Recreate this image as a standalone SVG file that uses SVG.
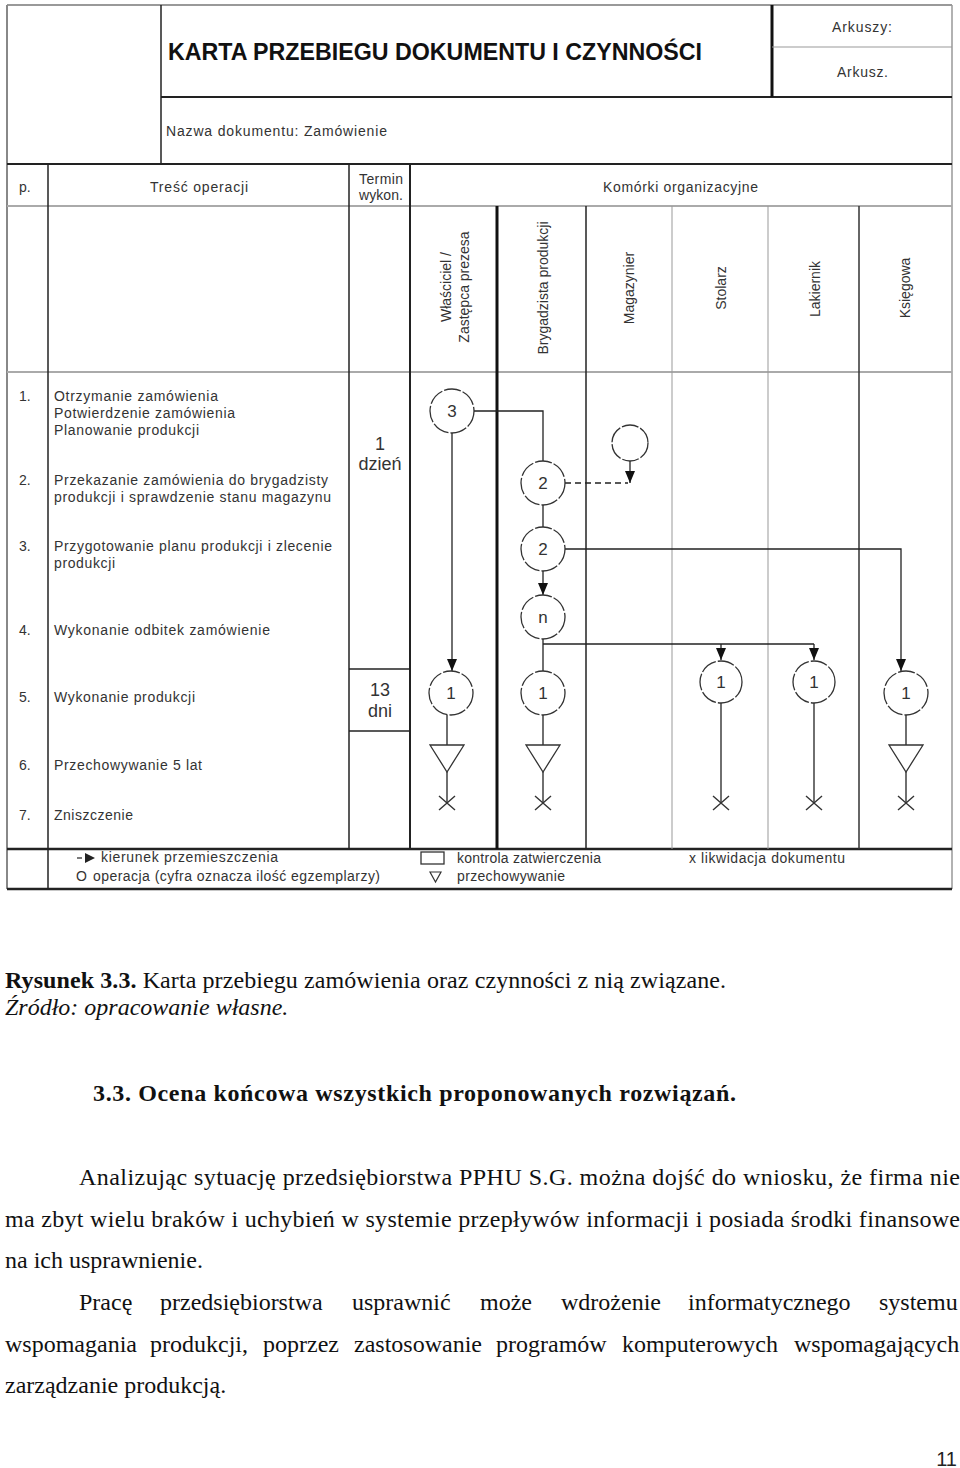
<svg xmlns="http://www.w3.org/2000/svg" width="960" height="1468" viewBox="0 0 960 1468">
<defs>
<marker id="ah" viewBox="0 0 12 10" refX="12" refY="5" markerWidth="12" markerHeight="10" markerUnits="userSpaceOnUse" orient="auto"><path d="M0,0 L12,5 L0,10 z" fill="#111"/></marker>
<style>
.t{font-family:"Liberation Sans",Arial,sans-serif;fill:#333;font-size:14px}
.big{font-size:18px;text-anchor:middle}
.s{font-family:"Liberation Serif","Times New Roman",serif;fill:#111;font-size:24px}
.node circle{fill:#fff;stroke:#333;stroke-width:1.3;stroke-dasharray:17 2}
.node text{font-family:"Liberation Sans",Arial,sans-serif;font-size:17px;fill:#333;text-anchor:middle}
.conn path{stroke:#222;fill:none;stroke-width:1.3}
.store{fill:#fff;stroke:#333;stroke-width:1.3}
.x{stroke:#333;stroke-width:1.4}
.rot{text-anchor:middle}
</style>
</defs>
<rect width="960" height="1468" fill="#fff"/>

<g id="frame" fill="none">
<line x1="7" y1="5" x2="952" y2="5" stroke="#999" stroke-width="2"/>
<line x1="7" y1="5" x2="7" y2="889" stroke="#888" stroke-width="2"/>
<line x1="952" y1="5" x2="952" y2="889" stroke="#999" stroke-width="1.5"/>
<line x1="7" y1="889" x2="952" y2="889" stroke="#222" stroke-width="2.5"/>
<line x1="161" y1="5" x2="161" y2="164" stroke="#222" stroke-width="1.5"/>
<line x1="161" y1="97" x2="952" y2="97" stroke="#222" stroke-width="2"/>
<line x1="772" y1="5" x2="772" y2="97" stroke="#111" stroke-width="3"/>
<line x1="772" y1="47" x2="952" y2="47" stroke="#999" stroke-width="1"/>
<line x1="7" y1="164" x2="952" y2="164" stroke="#222" stroke-width="2"/>
<line x1="7" y1="206" x2="952" y2="206" stroke="#aaa" stroke-width="2"/>
<line x1="7" y1="372" x2="952" y2="372" stroke="#aaa" stroke-width="2"/>
<line x1="7" y1="849" x2="952" y2="849" stroke="#222" stroke-width="2.5"/>
<line x1="48" y1="164" x2="48" y2="889" stroke="#222" stroke-width="1.5"/>
<line x1="349" y1="164" x2="349" y2="849" stroke="#222" stroke-width="1.5"/>
<line x1="410" y1="164" x2="410" y2="849" stroke="#222" stroke-width="2"/>
<line x1="497" y1="206" x2="497" y2="849" stroke="#111" stroke-width="3"/>
<line x1="586" y1="206" x2="586" y2="849" stroke="#222" stroke-width="1.5"/>
<line x1="672" y1="206" x2="672" y2="849" stroke="#999" stroke-width="1"/>
<line x1="768" y1="206" x2="768" y2="849" stroke="#999" stroke-width="1"/>
<line x1="859" y1="206" x2="859" y2="849" stroke="#333" stroke-width="1.5"/>
<line x1="349" y1="669" x2="410" y2="669" stroke="#222" stroke-width="1.5"/>
<line x1="349" y1="731" x2="410" y2="731" stroke="#222" stroke-width="1.5"/>
</g>

<g id="header">
<text x="168" y="60" font-family="Liberation Sans, Arial, sans-serif" font-weight="bold" font-size="23" fill="#111" textLength="534" lengthAdjust="spacingAndGlyphs">KARTA PRZEBIEGU DOKUMENTU I CZYNNOŚCI</text>
<text class="t" x="832" y="32" textLength="60">Arkuszy:</text>
<text class="t" x="837" y="77" textLength="51">Arkusz.</text>
<text class="t" x="166" y="136" textLength="221">Nazwa dokumentu: Zamówienie</text>
<text class="t" x="19" y="192">p.</text>
<text class="t" x="150" y="192" textLength="98">Treść operacji</text>
<text class="t" x="359" y="184" textLength="44">Termin</text>
<text class="t" x="359" y="200" textLength="44">wykon.</text>
<text class="t" x="603" y="192" textLength="155">Komórki organizacyjne</text>
<text class="t rot" transform="translate(451,287) rotate(-90)">Właściciel /</text>
<text class="t rot" transform="translate(469,287) rotate(-90)">Zastępca prezesa</text>
<text class="t rot" transform="translate(548,288) rotate(-90)">Brygadzista produkcji</text>
<text class="t rot" transform="translate(634,288) rotate(-90)">Magazynier</text>
<text class="t rot" transform="translate(726,288) rotate(-90)">Stolarz</text>
<text class="t rot" transform="translate(820,289) rotate(-90)">Lakiernik</text>
<text class="t rot" transform="translate(910,288) rotate(-90)">Księgowa</text>
</g>

<g id="operations">
<text class="t" x="19" y="401">1.</text>
<text class="t" x="54" y="401" textLength="164">Otrzymanie zamówienia</text>
<text class="t" x="54" y="418" textLength="181">Potwierdzenie zamówienia</text>
<text class="t" x="54" y="435" textLength="145">Planowanie produkcji</text>
<text class="t" x="19" y="485">2.</text>
<text class="t" x="54" y="485" textLength="274">Przekazanie zamówienia do brygadzisty</text>
<text class="t" x="54" y="502" textLength="277">produkcji i sprawdzenie stanu magazynu</text>
<text class="t" x="19" y="551">3.</text>
<text class="t" x="54" y="551" textLength="278">Przygotowanie planu produkcji i zlecenie</text>
<text class="t" x="54" y="568" textLength="61">produkcji</text>
<text class="t" x="19" y="635">4.</text>
<text class="t" x="54" y="635" textLength="216">Wykonanie odbitek zamówienie</text>
<text class="t" x="19" y="702">5.</text>
<text class="t" x="54" y="702" textLength="141">Wykonanie produkcji</text>
<text class="t" x="19" y="770">6.</text>
<text class="t" x="54" y="770" textLength="148">Przechowywanie 5 lat</text>
<text class="t" x="19" y="820">7.</text>
<text class="t" x="54" y="820" textLength="79">Zniszczenie</text>
<text class="t big" x="380" y="450">1</text>
<text class="t big" x="380" y="470">dzień</text>
<text class="t big" x="380" y="696">13</text>
<text class="t big" x="380" y="717">dni</text>
</g>

<g class="conn" id="connectors">
<path d="M474,411 H543 V461" stroke="#444" stroke-width="1.1"/>
<path d="M452,433 V671" marker-end="url(#ah)"/>
<path d="M543,505 V527"/>
<path d="M565,483 H628" stroke-dasharray="6 4"/>
<path d="M630,461 V483" marker-end="url(#ah)"/>
<path d="M543,571 V595" marker-end="url(#ah)"/>
<path d="M565,549 H901 V671" stroke-width="2" marker-end="url(#ah)"/>
<path d="M543,639 V671"/>
<path d="M543,644 H814" stroke-width="1.5"/>
<path d="M721,644 V660" marker-end="url(#ah)"/>
<path d="M814,644 V660" marker-end="url(#ah)"/>
<path d="M447,715 V745"/>
<path d="M447,772 V803"/>
<path d="M543,715 V745"/>
<path d="M543,772 V803"/>
<path d="M721,703 V803" stroke="#555" stroke-width="1.1"/>
<path d="M814,703 V803" stroke-width="1.6"/>
<path d="M906,715 V745"/>
<path d="M906,772 V803"/>
</g>

<g id="n3" class="node"><circle cx="452" cy="411" r="22"/><text x="452" y="417">3</text></g>
<g id="n2a" class="node"><circle cx="543" cy="483" r="22"/><text x="543" y="489">2</text></g>
<g id="nEmpty" class="node"><circle cx="630" cy="443" r="18"/></g>
<g id="n2b" class="node"><circle cx="543" cy="549" r="22"/><text x="543" y="555">2</text></g>
<g id="nN" class="node"><circle cx="543" cy="617" r="22"/><text x="543" y="623">n</text></g>
<g id="c1" class="node"><circle cx="451" cy="693" r="22"/><text x="451" y="699">1</text></g>
<g id="c2" class="node"><circle cx="543" cy="693" r="22"/><text x="543" y="699">1</text></g>
<g id="c3" class="node"><circle cx="721" cy="682" r="21"/><text x="721" y="688">1</text></g>
<g id="c4" class="node"><circle cx="814" cy="682" r="21"/><text x="814" y="688">1</text></g>
<g id="c5" class="node"><circle cx="906" cy="693" r="22"/><text x="906" y="699">1</text></g>

<g id="storage">
<polygon class="store" points="430,745 464,745 447,772"/>
<polygon class="store" points="526,745 560,745 543,772"/>
<polygon class="store" points="889,745 923,745 906,772"/>
</g>
<g id="destroy">
<path class="x" d="M439,796 L455,810 M455,796 L439,810"/>
<path class="x" d="M535,796 L551,810 M551,796 L535,810"/>
<path class="x" d="M713,796 L729,810 M729,796 L713,810"/>
<path class="x" d="M806,796 L822,810 M822,796 L806,810"/>
<path class="x" d="M898,796 L914,810 M914,796 L898,810"/>
</g>

<g id="legend">
<line x1="77" y1="858" x2="82" y2="858" stroke="#333" stroke-width="1.3"/>
<polygon points="85,853 95,858 85,863" fill="#222"/>
<text class="t" x="101" y="862" textLength="177">kierunek przemieszczenia</text>
<text class="t" x="76" y="881">O</text>
<text class="t" x="93" y="881" textLength="287">operacja (cyfra oznacza ilość egzemplarzy)</text>
<rect x="421" y="852" width="23" height="12" fill="none" stroke="#333" stroke-width="1.3"/>
<text class="t" x="457" y="863" textLength="144">kontrola zatwierczenia</text>
<polygon points="430,872 441,872 435.5,882" fill="none" stroke="#333" stroke-width="1.2"/>
<text class="t" x="457" y="881" textLength="108">przechowywanie</text>
<text class="t" x="689" y="863">x</text>
<text class="t" x="701" y="863" textLength="144">likwidacja dokumentu</text>
</g>

<g id="page-text">
<text class="s" x="5" y="988" textLength="721"><tspan font-weight="bold">Rysunek 3.3.</tspan> Karta przebiegu zamówienia oraz czynności z nią związane.</text>
<text class="s" x="5" y="1015" font-style="italic">Źródło: opracowanie własne.</text>
<text class="s" x="93" y="1101" font-weight="bold" textLength="643">3.3. Ocena końcowa wszystkich proponowanych rozwiązań.</text>
<text class="s" x="79" y="1185" textLength="881" lengthAdjust="spacing">Analizując sytuację przedsiębiorstwa PPHU S.G. można dojść do  wniosku, że firma nie</text>
<text class="s" x="5" y="1227" textLength="955" lengthAdjust="spacing">ma zbyt wielu braków i uchybień w systemie przepływów informacji i posiada środki finansowe</text>
<text class="s" x="5" y="1268">na ich usprawnienie.</text>
<text class="s" y="1310"><tspan x="79">Pracę</tspan><tspan x="160">przedsiębiorstwa</tspan><tspan x="352">usprawnić</tspan><tspan x="480">może</tspan><tspan x="561">wdrożenie</tspan><tspan x="688">informatycznego</tspan><tspan x="879">systemu</tspan></text>
<text class="s" y="1352"><tspan x="5">wspomagania</tspan><tspan x="150">produkcji,</tspan><tspan x="263">poprzez</tspan><tspan x="354">zastosowanie</tspan><tspan x="496">programów</tspan><tspan x="622">komputerowych</tspan><tspan x="794">wspomagających</tspan></text>
<text class="s" x="5" y="1393">zarządzanie produkcją.</text>
<text x="957" y="1466" font-family="Liberation Sans, Arial, sans-serif" font-size="20" fill="#222" text-anchor="end">11</text>
</g>
</svg>
